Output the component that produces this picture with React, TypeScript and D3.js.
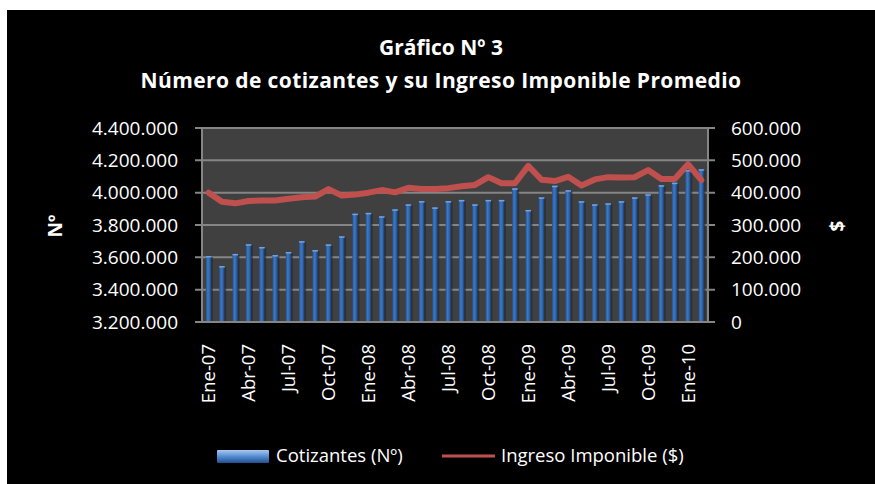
import React from 'react';
import * as d3 from 'd3';

// meses (Ene-07 .. Feb-10)
const meses = [
  'Ene-07', 'Feb-07', 'Mar-07', 'Abr-07', 'May-07', 'Jun-07', 'Jul-07', 'Ago-07', 'Sep-07', 'Oct-07', 'Nov-07', 'Dic-07',
  'Ene-08', 'Feb-08', 'Mar-08', 'Abr-08', 'May-08', 'Jun-08', 'Jul-08', 'Ago-08', 'Sep-08', 'Oct-08', 'Nov-08', 'Dic-08',
  'Ene-09', 'Feb-09', 'Mar-09', 'Abr-09', 'May-09', 'Jun-09', 'Jul-09', 'Ago-09', 'Sep-09', 'Oct-09', 'Nov-09', 'Dic-09',
  'Ene-10', 'Feb-10',
];

const cotizantes = [
  3608000, 3546000, 3621000, 3681000, 3664000, 3614000, 3633000, 3700000, 3645000, 3680000, 3730000, 3870000,
  3875000, 3854000, 3897000, 3928000, 3948000, 3909000, 3948000, 3955000, 3928000, 3955000, 3955000, 4027000,
  3893000, 3971000, 4043000, 4015000, 3947000, 3928000, 3934000, 3947000, 3971000, 3990000, 4046000, 4062000,
  4140000, 4145000,
];

const ingreso = [
  400000, 372000, 367000, 374000, 376000, 376000, 381000, 386000, 388000, 411000, 391000, 394000,
  400000, 408000, 401000, 415000, 411000, 411000, 414000, 420000, 424000, 448000, 429000, 429000,
  483000, 440000, 436000, 449000, 422000, 441000, 448000, 447000, 448000, 470000, 442000, 442000,
  488000, 439000,
];

const ticksIzq = [3200000, 3400000, 3600000, 3800000, 4000000, 4200000, 4400000];
const ticksDer = [0, 100000, 200000, 300000, 400000, 500000, 600000];

const W = 875;
const H = 484;
const margin = { top: 128, right: 167, bottom: 162, left: 202 };
const FONT = '"Open Sans", "DejaVu Sans", sans-serif';

const fmt = d3.formatLocale({ decimal: ',', thousands: '.', grouping: [3], currency: ['$', ''] }).format(',d');

export default function App() {
  const x0 = margin.left;
  const x1 = W - margin.right;
  const y0 = H - margin.bottom;
  const y1 = margin.top;

  const x = d3.scaleBand<string>().domain(meses).range([x0, x1]).paddingInner(0.58).paddingOuter(0.29);
  const yL = d3.scaleLinear().domain([3200000, 4400000]).range([y0, y1]);
  const yR = d3.scaleLinear().domain([0, 600000]).range([y0, y1]);

  const line = d3.line<number>()
    .x((_, i) => (x(meses[i]) ?? 0) + x.bandwidth() / 2)
    .y(d => yR(d))
    .curve(d3.curveLinear);

  return (
    <svg width={W} height={H} style={{ position: 'absolute', left: 0, top: 0 }} fontFamily={FONT}>
      <defs>
        <linearGradient id="barGrad" x1="0" x2="1" y1="0" y2="0">
          <stop offset="0%" stopColor="#244f8a" />
          <stop offset="35%" stopColor="#3f78c2" />
          <stop offset="65%" stopColor="#2f66ad" />
          <stop offset="100%" stopColor="#173868" />
        </linearGradient>
        <linearGradient id="legGrad" x1="0" x2="0" y1="0" y2="1">
          <stop offset="0%" stopColor="#a9c8ee" />
          <stop offset="45%" stopColor="#5b93d6" />
          <stop offset="100%" stopColor="#1f4f8f" />
        </linearGradient>
      </defs>

      <rect x={0} y={0} width={W} height={H} fill="#ffffff" />
      <rect x={7} y={10} width={W - 7} height={H - 10} fill="#000000" />

      {/* titulo */}
      <text x={441} y={55} textAnchor="middle" fill="#ffffff" fontWeight="bold" fontSize={21}>Gráfico Nº 3</text>
      <text x={441} y={88} textAnchor="middle" fill="#ffffff" fontWeight="bold" fontSize={21} letterSpacing={0.4}>
        Número de cotizantes y su Ingreso Imponible Promedio
      </text>

      {/* area del grafico */}
      <rect x={x0} y={y1} width={x1 - x0} height={y0 - y1} fill="#404040" />

      {ticksIzq.map(t => (
        <line key={'g' + t} x1={x0 - 7} x2={x1 + 7} y1={yL(t)} y2={yL(t)} stroke="#858585" strokeWidth={2} />
      ))}

      {/* barras */}
      {cotizantes.map((v, i) => {
        const bx = x(meses[i]) ?? 0;
        const by = yL(v);
        return (
          <g key={'b' + i}>
            <rect x={bx + 1.5} y={by + 1} width={x.bandwidth()} height={y0 - by - 1} fill="#262626" opacity={0.6} />
            <rect x={bx} y={by} width={x.bandwidth()} height={y0 - by} fill="url(#barGrad)" />
            <rect x={bx} y={by} width={x.bandwidth()} height={1.5} fill="#6fa3e4" />
          </g>
        );
      })}

      {/* ejes */}
      <line x1={x0} x2={x0} y1={y1} y2={y0} stroke="#858585" strokeWidth={2} />
      <line x1={x1} x2={x1} y1={y1} y2={y0} stroke="#858585" strokeWidth={2} />
      <line x1={x0 - 7} x2={x1 + 7} y1={y0} y2={y0} stroke="#858585" strokeWidth={2} />

      {/* linea ingreso */}
      <path d={line(ingreso) ?? ''} fill="none" stroke="#c0504d" strokeWidth={6}
        strokeLinejoin="round" strokeLinecap="round" />

      {/* etiquetas eje izquierdo */}
      {ticksIzq.map(t => (
        <text key={'l' + t} x={178} y={yL(t)} dy="0.35em" textAnchor="end" fill="#ffffff" fontSize={19}>
          {fmt(t)}
        </text>
      ))}
      {/* etiquetas eje derecho */}
      {ticksDer.map(t => (
        <text key={'r' + t} x={731} y={yR(t)} dy="0.35em" textAnchor="start" fill="#ffffff" fontSize={19}>
          {fmt(t)}
        </text>
      ))}

      {/* etiquetas eje x, cada 3 meses */}
      {meses.map((m, i) => i % 3 !== 0 ? null : (
        <text key={'x' + m}
          transform={`translate(${(x(m) ?? 0) + x.bandwidth() / 2},${y0 + 22}) rotate(-90)`}
          dy="0.35em" textAnchor="end" fill="#ffffff" fontSize={18.5}>
          {m}
        </text>
      ))}

      {/* titulos de ejes */}
      <text transform="translate(55,226) rotate(-90)" dy="0.35em" textAnchor="middle" fill="#ffffff"
        fontWeight="bold" fontSize={19}>Nº</text>
      <text transform="translate(837,226) rotate(-90)" dy="0.35em" textAnchor="middle" fill="#ffffff"
        fontWeight="bold" fontSize={19}>$</text>

      {/* leyenda */}
      <rect x={217} y={450} width={52} height={13} fill="url(#legGrad)" rx={1} />
      <text x={276} y={456} dy="0.35em" fill="#ffffff" fontSize={18.5}>Cotizantes (Nº)</text>
      <line x1={442} x2={495} y1={456} y2={456} stroke="#c0504d" strokeWidth={3} />
      <text x={501} y={456} dy="0.35em" fill="#ffffff" fontSize={18.5}>Ingreso Imponible ($)</text>
    </svg>
  );
}
